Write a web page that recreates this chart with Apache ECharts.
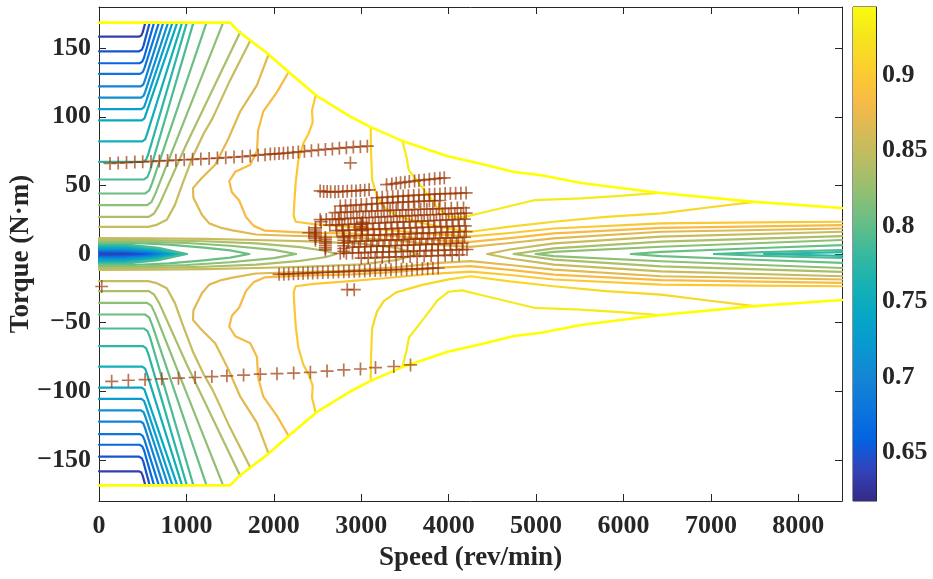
<!DOCTYPE html>
<html><head><meta charset="utf-8">
<script src="https://cdn.jsdelivr.net/npm/echarts@6/dist/echarts.min.js"></script>
<style>html,body{margin:0;padding:0;background:#fff}#c{width:933px;height:579px}</style>
</head><body><div id="c"></div>
<script>
// ---------- axes / levels ----------
const xTicks = [0,1000,2000,3000,4000,5000,6000,7000,8000];
const yTicks = [-150,-100,-50,0,50,100,150];
const cbTicks = [0.65,0.7,0.75,0.8,0.85,0.9];
const effMin = 0.618, effMax = 0.945;
const levels = [0.6336,0.6491,0.6647,0.6803,0.6959,0.7114,0.7270,0.7426,0.7581,0.7737,0.7893,0.8049,0.8204,0.8360,0.8516,0.8671,0.8827,0.8983,0.9139,0.9294];
// parula colormap samples (positions i/16)
const parulaStops = [[0.2081,0.1663,0.5292],[0.1959,0.2645,0.7279],[0.0117,0.3875,0.8820],[0.0498,0.4586,0.8641],[0.0793,0.5200,0.8312],[0.0343,0.5966,0.8199],[0.0228,0.6535,0.7768],[0.0843,0.6928,0.7062],[0.2178,0.7250,0.6193],[0.3953,0.7459,0.5244],[0.5709,0.7485,0.4494],[0.7184,0.7411,0.3905],[0.8507,0.7299,0.3360],[0.9739,0.7314,0.2666],[0.9880,0.8066,0.1794],[0.9589,0.8949,0.1132],[0.9763,0.9831,0.0538]];

// ---------- max-torque envelope (upper half; lower half is its mirror) ----------
const envelope = [[0,168.6],[1500,168.6],[1600,162],[1930,146],[2190,131.5],[2500,114.8],[2880,100],[3108,92.5],[3471,82.4],[3990,71.2],[4366,65.8],[4750,59.8],[5060,57.4],[5516,51.8],[6400,44.6],[7500,38],[8500,33.5]];

// ---------- contour pieces that start on the left axis (levels 1..15) ----------
const fanL01 = [[0,158.4],[455,158.4],[485,159.3],[500,161.5],[530,168.6]];
const fanL02 = [[0,147.7],[460,147.7],[490,148.8],[508,151.5],[580,168.6]];
const fanL03 = [[0,139],[465,139],[495,140.2],[515,143],[630,168.6]];
const fanL04 = [[0,131.3],[470,131.3],[500,132.5],[520,135.5],[685,168.6]];
const fanL05 = [[0,122.1],[475,122.1],[505,123.3],[525,126.5],[735,168.6]];
const fanL06 = [[0,113.9],[480,113.9],[510,115.2],[530,118.5],[790,168.6]];
const fanL07 = [[0,105.6],[485,105.6],[515,107],[535,110.5],[840,168.6]];
const fanL08 = [[0,97.4],[490,97.4],[520,98.8],[540,102.5],[895,168.6]];
const fanL09 = [[0,82.1],[495,82.1],[528,83.6],[550,87.5],[950,168.6]];
const fanL10 = [[0,67.1],[505,67.1],[540,68.8],[565,73],[1005,168.6]];
const fanL11 = [[0,54.3],[515,54.3],[555,56.2],[585,61],[1080,168.6]];
const fanL12 = [[0,44.1],[530,44.1],[575,46.3],[610,52],[1230,168.6]];
const fanL13 = [[0,35.6],[550,35.6],[600,37.8],[645,44],[1420,168.6]];
const fanL14 = [[0,27.1],[570,27.1],[630,29.5],[690,36],[1000,80],[1616,161.8]];
const fanL15 = [[0,19.8],[560,19.8],[650,21],[776,25],[870,36],[960,52],[1080,72],[1200,88],[1300,99],[1480,124],[1731,155.6]];

// ---------- low-torque band loops around the left blob (levels 1..15) ----------
const bandL01 = [[0,0.8],[250,0.75],[450,0.5],[560,0]];
const bandL02 = [[0,1.4],[300,1.3],[500,0.8],[620,0]];
const bandL03 = [[0,2.0],[300,1.9],[520,1.2],[680,0]];
const bandL04 = [[0,2.6],[300,2.5],[540,1.6],[730,0]];
const bandL05 = [[0,3.2],[300,3.1],[560,2.0],[770,0]];
const bandL06 = [[0,3.8],[300,3.7],[580,2.4],[810,0]];
const bandL07 = [[0,4.4],[300,4.3],[600,2.8],[850,0]];
const bandL08 = [[0,5.0],[300,4.9],[620,3.2],[890,0]];
const bandL09 = [[0,5.7],[300,5.6],[640,3.6],[930,0]];
const bandL10 = [[0,6.4],[300,6.3],[660,4.0],[965,0]];
const bandL11 = [[0,7.2],[300,7.1],[680,4.5],[1005,0]];
const bandL12 = [[0,8.1],[400,8.0],[800,6.8],[1200,4.6],[1500,2.6],[1719,0]];
const bandL13 = [[0,9.1],[500,9.0],[1000,8.0],[1500,6.0],[2000,3.0],[2254,0]];
const bandL14 = [[0,10.2],[600,10.1],[1200,9.3],[1800,7.8],[2300,5.0],[2600,2.2],[2712,0]];
const bandL15 = [[0,11.5],[600,11.4],[1200,11],[1800,10.2],[2400,9.2],[3000,7.5],[3400,4.5],[3650,0]];

// ---------- right-hand band pieces opening to the right edge (levels 10..15) ----------
const rightL10 = [[7610,0],[8500,1.3]];
const rightL11 = [[7036,0],[7600,1.3],[8500,2.9]];
const rightL12 = [[6085,0],[6429,1.6],[7500,4.2],[8500,6.5]];
const rightL13 = [[4997,0],[5203,1.5],[6429,5.3],[8500,10.2]];
const rightL14 = [[4745,0],[5203,4.1],[6429,9],[8500,13]];
const rightL15 = [[4443,0],[4700,3.3],[5203,7.8],[6429,12.6],[8500,16.2]];

// ---------- high-efficiency contours (levels 16..20) ----------
const lineL16 = [[1940,145.5],[1807,123],[1616,104],[1480,84],[1329,65],[1170,55],[1075,48],[1080,41],[1177,28.6],[1261,22.3],[1400,19],[1528,17.2],[1796,14.2],[2200,13.3],[2800,12.3],[3400,9.8],[3900,6.5],[4250,5.2],[4700,8],[5203,11.4],[6429,16.2],[8500,18.6]];
const lineL17 = [[2169,132.6],[2036,118],[1880,104],[1820,90],[1807,75],[1731,65],[1560,60],[1490,53],[1520,45],[1604,39],[1681,27],[1770,20.5],[1900,17],[2300,15.8],[2900,14.8],[3400,13],[3900,10],[4250,8.8],[4700,11.5],[5203,15],[6429,19],[8500,21]];
const lineL18 = [[2480,115.9],[2437,104.6],[2445,96],[2400,88],[2338,80.7],[2280,68],[2250,52],[2235,38],[2227,28],[2250,23.5],[2456,21.8],[2838,19.9],[3300,17.5],[3800,14.5],[4250,12.8],[4700,15.3],[5203,18.6],[6429,22.3],[7500,23],[8500,23.5]];
const lineL19 = [[3108,92.5],[3112,75],[3125,54],[3180,42],[3258,34.4],[3400,28],[3700,22.5],[4000,18.5],[4250,16.2],[4700,20],[5203,23.5],[5800,27],[6429,29.6],[6968,33.9],[7500,38]];
const lineL20 = [[3471,82.4],[3520,70],[3545,61],[3679,50],[3800,40],[3870,34],[4000,27.5],[4150,26.5],[4443,31],[4977,39.2],[5516,40.5],[6000,42.5],[6400,44.6]];

// ---------- operating points ----------
const opUpperRow = [[126,66],[220,66.3],[315,66.6],[410,67],[500,67.2],[595,67.5],[690,67.8],[785,68.1],[880,68.4],[975,68.7],[1070,69],[1165,69.3],[1260,69.6],[1355,69.9],[1450,70.2],[1545,70.6],[1640,71],[1730,71.5],[1820,72],[1900,72.4],[1960,72.8],[2010,73],[2060,73.2],[2110,73.4],[2160,73.6],[2220,74],[2280,74.4],[2350,74.8],[2430,75.3],[2510,75.8],[2590,76.2],[2670,76.6],[2750,77.1],[2830,77.5],[2910,77.9],[2990,78.2],[3070,78.6]];
const opLowerRow = [[145,-92.8],[336,-92],[527,-91.5],[718,-91],[909,-90.5],[1100,-90],[1291,-89.3],[1463,-88.8],[1654,-88.2],[1845,-87.6],[2036,-87.2],[2227,-86.8],[2418,-86.2],[2609,-85.3],[2800,-84.5],[2991,-83.8],[3163,-82.8],[3373,-82],[3564,-80.8]];
const opRowA = [[2530,46],[2570,45.5],[2610,45.5],[2650,45.3],[2700,45.3],[2740,45.5],[2790,45.5],[2840,45.8],[2890,46],[2940,46],[2990,46.3],[3040,46.5],[3090,46.8]];
const opRowB = [[3290,50.5],[3350,51],[3400,51.5],[3450,52],[3500,52.3],[3550,52.8],[3610,53.2],[3660,53.6],[3720,54],[3780,54.4],[3840,54.8],[3900,55.2],[3950,55.5]];
const opRowC = [[3180,41],[3240,41.3],[3300,41.5],[3360,41.8],[3420,42],[3480,42.2],[3540,42.5],[3600,42.7],[3660,43],[3720,43.2],[3780,43.4],[3840,43.6],[3900,43.8],[3960,44],[4020,44],[4080,44.2],[4140,44.3],[4200,44.5]];
const opRowD = [[2760,35],[2820,35.2],[2880,35.5],[2940,35.7],[3000,36],[3060,36.2],[3120,36.5],[3180,36.7],[3240,37],[3300,37.2],[3360,37.4],[3420,37.6],[3480,37.8],[3540,38],[3600,38.2],[3660,38.3],[3720,38.5],[3780,38.7],[3840,38.8],[3900,39]];
const opRowE = [[2700,30.2],[2770,30.4],[2840,30.5],[2910,30.8],[2980,31],[3050,31.1],[3120,31.3],[3190,31.5],[3260,31.6],[3330,31.8],[3400,32],[3470,32.1],[3540,32.3],[3610,32.4],[3680,32.6],[3750,32.7],[3820,32.9],[3890,33],[3960,33.2],[4030,33.3],[4100,33.5],[4170,33.6]];
const opRowF = [[2530,25],[2600,25.2],[2670,25.4],[2740,25.6],[2810,25.8],[2880,26],[2950,26.2],[3020,26.4],[3090,26.6],[3160,26.8],[3230,27],[3300,27.2],[3370,27.4],[3440,27.6],[3510,27.8],[3580,28],[3650,28.2],[3720,28.4],[3790,28.6],[3860,28.8],[3930,29],[4000,29.2],[4070,29.4],[4140,29.6],[4200,29.8]];
const opRowG = [[2640,21],[2710,21.2],[2780,21.4],[2850,21.6],[2920,21.8],[2990,22],[3060,22.2],[3130,22.4],[3200,22.6],[3270,22.8],[3340,23],[3410,23.2],[3480,23.4],[3550,23.6],[3620,23.8],[3690,24],[3760,24.2],[3830,24.4],[3900,24.6],[3970,24.8],[4040,25],[4110,25.2],[4180,25.4]];
const opRowH = [[2720,17],[2790,17.2],[2860,17.4],[2930,17.5],[3000,17.7],[3070,17.9],[3140,18],[3210,18.2],[3280,18.4],[3350,18.5],[3420,18.7],[3490,18.9],[3560,19],[3630,19.2],[3700,19.4],[3770,19.5],[3840,19.7],[3910,19.9],[3980,20],[4050,20.2],[4120,20.4],[4190,20.5]];
const opRowI = [[2800,13],[2870,13.2],[2940,13.3],[3010,13.5],[3080,13.7],[3150,13.8],[3220,14],[3290,14.2],[3360,14.3],[3430,14.5],[3500,14.7],[3570,14.8],[3640,15],[3710,15.2],[3780,15.3],[3850,15.5],[3920,15.7],[3990,15.8],[4060,16],[4130,16.2],[4200,16.3]];
const opRowJ = [[2850,9],[2920,9.2],[2990,9.3],[3060,9.5],[3130,9.7],[3200,9.8],[3270,10],[3340,10.2],[3410,10.3],[3480,10.5],[3550,10.7],[3620,10.8],[3690,11],[3760,11.2],[3830,11.3],[3900,11.5],[3970,11.7],[4040,11.8],[4110,12],[4180,12.2]];
const opRowK = [[2900,5],[2970,5.2],[3040,5.3],[3110,5.5],[3180,5.7],[3250,5.8],[3320,6],[3390,6.2],[3460,6.3],[3530,6.5],[3600,6.7],[3670,6.8],[3740,7],[3810,7.2],[3880,7.3],[3950,7.5],[4020,7.7],[4090,7.8],[4160,8]];
const opRowL = [[2760,0.5],[2830,0.6],[2900,0.8],[2970,0.9],[3040,1],[3110,1.2],[3180,1.3],[3250,1.4],[3320,1.6],[3390,1.7],[3460,1.8],[3530,2],[3600,2.1],[3670,2.2],[3740,2.4],[3810,2.5],[3880,2.6],[3950,2.8],[4020,2.9],[4090,3],[4160,3.2],[4210,3.3]];
const opRowM = [[3000,-3],[3080,-2.8],[3160,-2.6],[3240,-2.5],[3320,-2.3],[3400,-2.1],[3480,-2],[3560,-1.8],[3640,-1.6],[3720,-1.5],[3800,-1.3],[3880,-1.1],[3960,-1],[4040,-0.8],[4120,-0.6]];
const opRowN = [[2060,-14.8],[2115,-14.7],[2170,-14.5],[2225,-14.4],[2280,-14.2],[2335,-14.1],[2390,-13.9],[2445,-13.8],[2500,-13.6],[2560,-13.5],[2620,-13.3],[2680,-13.2],[2740,-13],[2800,-12.9],[2860,-12.7],[2920,-12.6],[2980,-12.4],[3040,-12.3],[3100,-12.1],[3160,-12],[3220,-11.8],[3280,-11.7],[3340,-11.5],[3400,-11.4],[3460,-11.2],[3520,-11.1],[3580,-10.9],[3640,-10.8],[3700,-10.6],[3760,-10.5],[3820,-10.3],[3880,-10.2]];
const opExtra = [[2476,10],[2476,11.5],[2476,13],[2476,14.5],[2476,16],[2476,17.5],[2476,19],[2590,3],[2590,4.5],[2590,6],[2590,7.5],[2590,9],[2590,10.5],[2590,12],[2800,2],[2800,4],[2800,6],[2800,8],[2800,10],[2800,12],[3010,17],[3010,18.5],[3010,20],[3010,21.5],[3010,23],[2541,23.5],[2750,25],[2787,17],[2400,15.5],[2876,66.4],[2840,-26],[2920,-26],[31,-23.7]];

// ---------- helpers ----------
function parula(f){
  f = Math.max(0, Math.min(1, f));
  const n = parulaStops.length - 1;
  const i = Math.min(n - 1, Math.floor(f * n));
  const r = f * n - i;
  const a = parulaStops[i], b = parulaStops[i + 1];
  return 'rgb(' + a.map((v, k) => Math.round(255 * (v + (b[k] - v) * r))).join(',') + ')';
}
const levelColor = k => parula((levels[k] - effMin) / (effMax - effMin));
const mirror = pts => pts.map(p => [p[0], -p[1]]);

const series = [];
function addLine(pts, color, width, z){
  series.push({type:'line', xAxisIndex:0, yAxisIndex:0, data:pts, symbol:'none', showSymbol:false,
    silent:true, animation:false, clip:true, z:z,
    lineStyle:{color:color, width:width, cap:'round', join:'round'}});
}
function addBoth(pts, color, width, z){ addLine(pts, color, width, z); addLine(mirror(pts), color, width, z); }

const bandLines = [bandL01,bandL02,bandL03,bandL04,bandL05,bandL06,bandL07,bandL08,bandL09,bandL10,bandL11,bandL12,bandL13,bandL14,bandL15];
const fanLines = [fanL01,fanL02,fanL03,fanL04,fanL05,fanL06,fanL07,fanL08,fanL09,fanL10,fanL11,fanL12,fanL13,fanL14,fanL15];
const rightLines = [rightL10,rightL11,rightL12,rightL13,rightL14,rightL15];
const highLines = [lineL16,lineL17,lineL18,lineL19,lineL20];

bandLines.forEach((pts, k) => addBoth(pts, levelColor(k), 2.2, 2));
fanLines.forEach((pts, k) => addBoth(pts, levelColor(k), 2.2, 2));
rightLines.forEach((pts, k) => addBoth(pts, levelColor(k + 9), 2.2, 2));
highLines.forEach((pts, k) => addBoth(pts, levelColor(k + 15), 2.2, 2));
addBoth(envelope, '#ffff00', 2.6, 3);

const plusPath = 'path://M-0.13,-1 L0.13,-1 L0.13,-0.13 L1,-0.13 L1,0.13 L0.13,0.13 L0.13,1 L-0.13,1 L-0.13,0.13 L-1,0.13 L-1,-0.13 L-0.13,-0.13 Z';
const opAll = [].concat(opUpperRow, opLowerRow, opRowA, opRowB, opRowC, opRowD, opRowE, opRowF, opRowG, opRowH, opRowI, opRowJ, opRowK, opRowL, opRowM, opRowN, opExtra);
series.push({type:'scatter', xAxisIndex:0, yAxisIndex:0, data:opAll, symbol:plusPath, symbolSize:13,
  silent:true, animation:false, z:5, itemStyle:{color:'rgba(153,51,0,0.85)'}});

// colorbar (stacked bar on its own axis)
const cssStops = parulaStops.map((c, i) => ({offset: 1 - i / (parulaStops.length - 1),
  color: 'rgb(' + c.map(v => Math.round(v * 255)).join(',') + ')'}));
series.push({type:'bar', xAxisIndex:2, yAxisIndex:2, stack:'cb', data:[effMin], barWidth:'100%', silent:true, animation:false,
  itemStyle:{color:'rgba(0,0,0,0)'}});
series.push({type:'bar', xAxisIndex:2, yAxisIndex:2, stack:'cb', data:[effMax - effMin], barWidth:'100%', silent:true, animation:false,
  itemStyle:{color:{type:'linear', x:0, y:0, x2:0, y2:1, colorStops: cssStops.slice().reverse()}}});

const FONT = 'Liberation Serif';
const axisCol = '#262626';
const lab = {fontFamily:FONT, fontWeight:'bold', fontSize:26, color:axisCol};
const numFmt = v => (v < 0 ? '\u2212' + String(-v) : String(v));

const chart = echarts.init(document.getElementById('c'), null, {renderer:'canvas'});
chart.setOption({
  animation:false,
  backgroundColor:'#ffffff',
  grid:[
    {left:99, top:7, width:743, height:494, show:false, containLabel:false, outerBoundsMode:'none'},
    {left:853, top:7, width:23, height:494, show:true, borderColor:axisCol, borderWidth:1, backgroundColor:'rgba(0,0,0,0)', containLabel:false, outerBoundsMode:'none'}
  ],
  xAxis:[
    {gridIndex:0, type:'value', min:0, max:8500, position:'bottom',
     axisLine:{show:true, onZero:false, lineStyle:{color:axisCol, width:1}},
     axisTick:{show:true, inside:true, length:7, customValues:xTicks, lineStyle:{color:axisCol}},
     axisLabel:Object.assign({show:true, margin:12, customValues:xTicks, formatter:numFmt}, lab),
     splitLine:{show:false},
     name:'Speed (rev/min)', nameLocation:'middle', nameGap:44, nameMoveOverlap:false,
     nameTextStyle:{fontFamily:FONT, fontWeight:'bold', fontSize:27, color:axisCol}},
    {gridIndex:0, type:'value', min:0, max:8500, position:'top',
     axisLine:{show:true, onZero:false, lineStyle:{color:axisCol, width:1}},
     axisTick:{show:true, inside:true, length:7, customValues:xTicks, lineStyle:{color:axisCol}},
     axisLabel:{show:false}, splitLine:{show:false}},
    {gridIndex:1, type:'category', data:['cb'], show:false}
  ],
  yAxis:[
    {gridIndex:0, type:'value', min:-180, max:180, position:'left',
     axisLine:{show:true, onZero:false, lineStyle:{color:axisCol, width:1}},
     axisTick:{show:true, inside:true, length:7, customValues:yTicks, lineStyle:{color:axisCol}},
     axisLabel:Object.assign({show:true, margin:8, customValues:yTicks, formatter:numFmt}, lab),
     splitLine:{show:false},
     name:'Torque (N\u00B7m)', nameLocation:'middle', nameGap:64, nameRotate:90, nameMoveOverlap:false,
     nameTextStyle:{fontFamily:FONT, fontWeight:'bold', fontSize:27, color:axisCol}},
    {gridIndex:0, type:'value', min:-180, max:180, position:'right',
     axisLine:{show:true, onZero:false, lineStyle:{color:axisCol, width:1}},
     axisTick:{show:true, inside:true, length:7, customValues:yTicks, lineStyle:{color:axisCol}},
     axisLabel:{show:false}, splitLine:{show:false}},
    {gridIndex:1, type:'value', min:effMin, max:effMax, position:'right',
     axisLine:{show:true, onZero:false, lineStyle:{color:axisCol, width:1}},
     axisTick:{show:true, inside:true, length:4, customValues:cbTicks, lineStyle:{color:axisCol}},
     axisLabel:Object.assign({show:true, margin:6, customValues:cbTicks,
       formatter: v => String(Math.round(v * 100) / 100)}, lab),
     splitLine:{show:false}}
  ],
  series:series
});
</script>
</body></html>
